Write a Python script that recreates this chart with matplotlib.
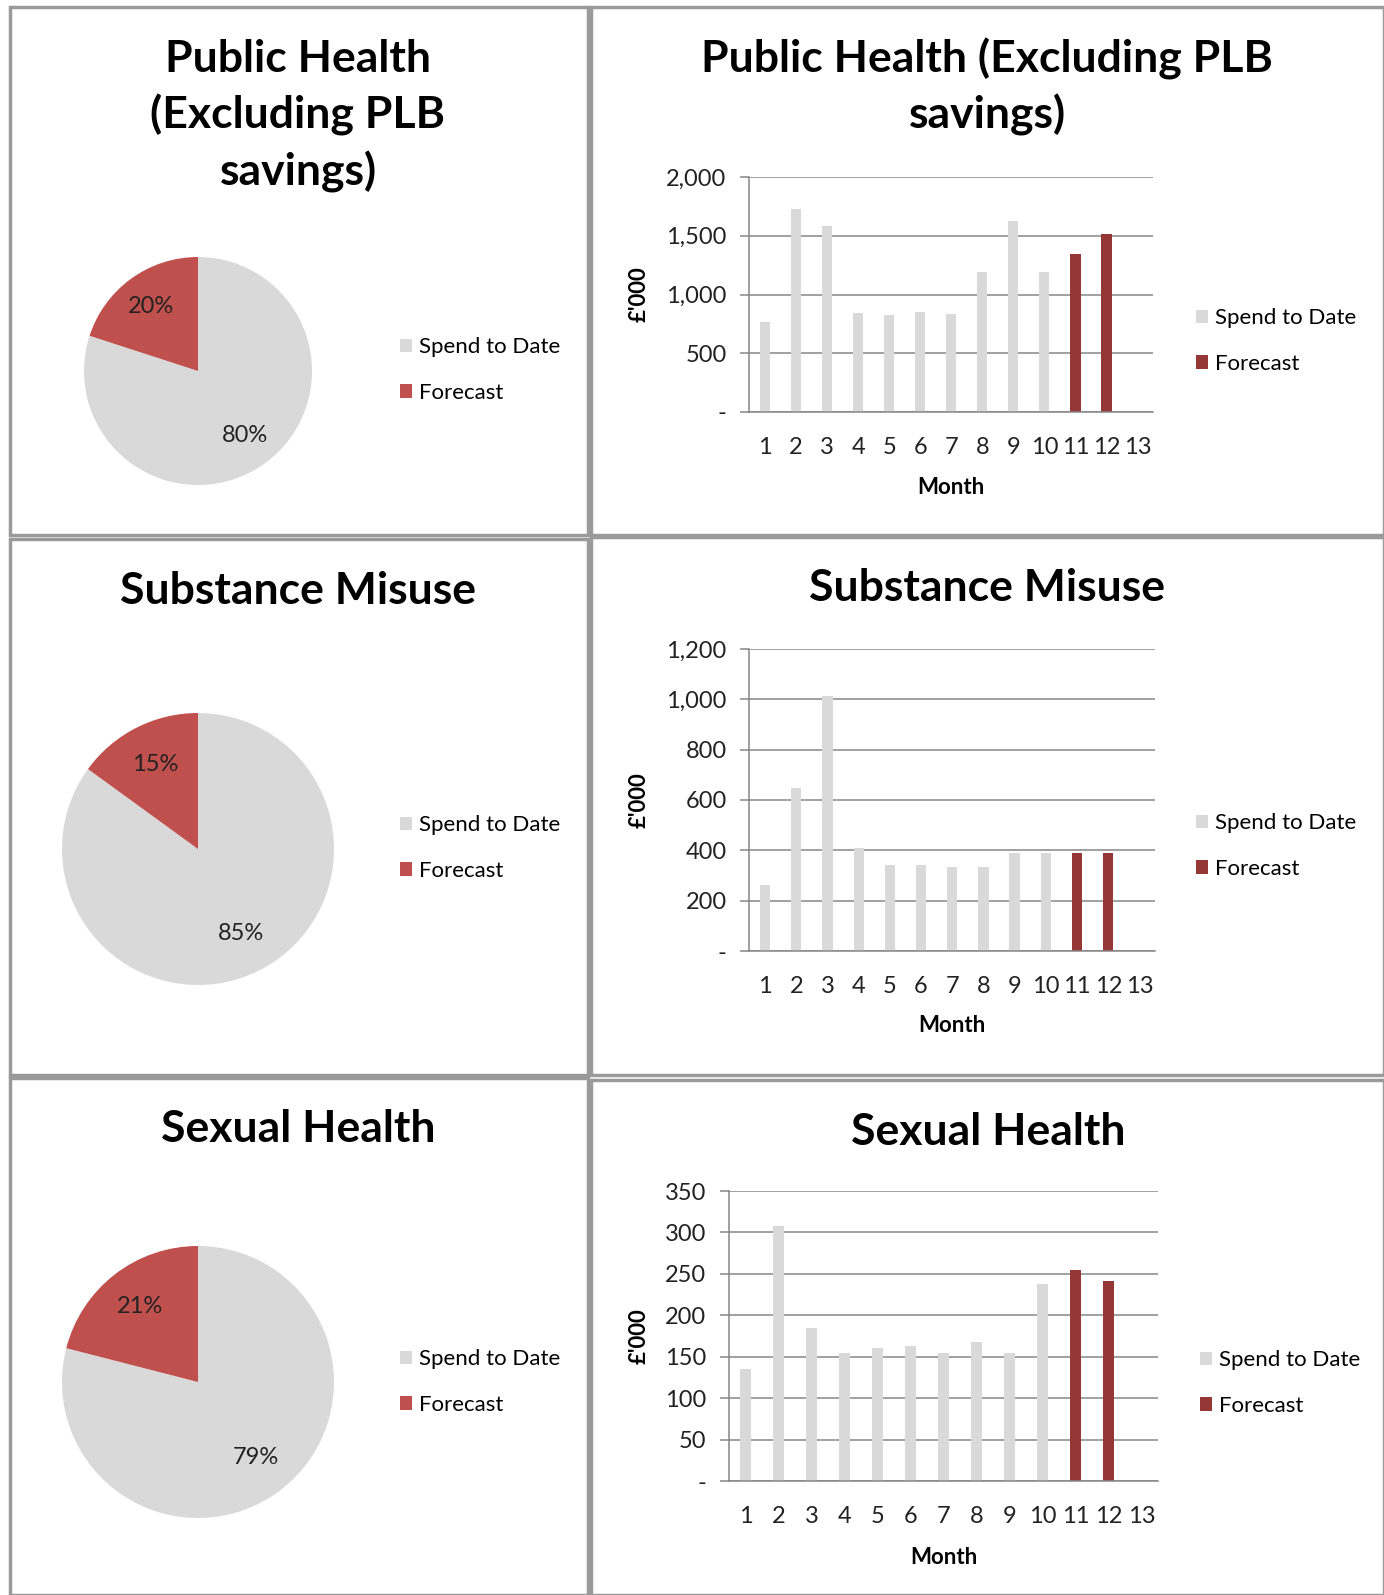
import matplotlib
matplotlib.use("Agg")
import matplotlib.pyplot as plt
from matplotlib.patches import Rectangle
from matplotlib.ticker import FuncFormatter


# Pie shares (%), spend to date vs forecast
PH_SHARE = [80, 20]
SM_SHARE = [85, 15]
SH_SHARE = [79, 21]

# Monthly spend (£'000), months 1-10 actual, 11-12 forecast
SPEND_MONTHS = [1, 2, 3, 4, 5, 6, 7, 8, 9, 10]
FORECAST_MONTHS = [11, 12]
ALL_MONTHS = list(range(1, 14))

PH_SPEND = [766, 1725, 1583, 843, 823, 854, 831, 1191, 1628, 1191]
PH_FORECAST = [1345, 1518]
SM_SPEND = [261, 647, 1013, 409, 343, 343, 332, 332, 388, 388]
SM_FORECAST = [388, 388]
SH_SPEND = [135, 308, 185, 155, 160, 163, 154, 168, 154, 238]
SH_FORECAST = [255, 241]

LABELS = ["Spend to Date", "Forecast"]

PIE_COLORS = ["#D9D9D9", "#C0504D"]
BAR_SPEND = "#D9D9D9"
BAR_FORECAST = "#953735"
GRID = "#868686"
BORDER = "#9A9A9A"

W, H = 1384, 1595
FONT = "Lato"
FS = 16


def box(x0, y0, x1, y1):
    return [x0 / W, 1 - y1 / H, (x1 - x0) / W, (y1 - y0) / H]


def fx(x):
    return x / W


def fy(y):
    return 1 - y / H


def panel_border(fig, x0, y0, x1, y1):
    fig.add_artist(Rectangle((x0 / W, 1 - y1 / H), (x1 - x0) / W, (y1 - y0) / H,
                             transform=fig.transFigure, fill=False,
                             edgecolor=BORDER, linewidth=2.5))


def add_legend(fig, handles, x, y):
    fig.legend(handles, LABELS, loc="center left",
               bbox_to_anchor=(fx(x), fy(y)),
               frameon=False, handlelength=0.55, handleheight=0.55,
               handletextpad=0.3, labelspacing=1.15, borderpad=0,
               borderaxespad=0, prop=dict(family=FONT, size=FS))


def draw_pie(fig, share, cx, cy, r, legend_x, legend_y):
    ax = fig.add_axes(box(cx - r, cy - r, cx + r, cy + r))
    wedges, _, _ = ax.pie(share, colors=PIE_COLORS, startangle=90,
                          counterclock=False, autopct="%.0f%%",
                          pctdistance=0.7,
                          textprops=dict(fontsize=17, color="#222222",
                                         family=FONT))
    ax.set_xlim(-1, 1)
    ax.set_ylim(-1, 1)
    add_legend(fig, wedges, legend_x, legend_y)


def draw_bars(fig, spend, forecast, ymax, step, rect, ylab_x, month_y,
              legend_x, legend_y):
    ax = fig.add_axes(box(*rect))
    b1 = ax.bar(SPEND_MONTHS, spend, width=0.33, color=BAR_SPEND, zorder=2)
    b2 = ax.bar(FORECAST_MONTHS, forecast, width=0.33, color=BAR_FORECAST, zorder=2)
    ax.set_xlim(0.5, 13.5)
    ax.set_ylim(0, ymax)
    ax.set_yticks(range(0, ymax + 1, step))
    ax.yaxis.set_major_formatter(FuncFormatter(lambda v, p: "-" if v == 0 else f"{v:,.0f}"))
    ax.set_xticks(ALL_MONTHS)
    ax.grid(axis="y", color=GRID, linewidth=1.1, zorder=0)
    for side in ["top", "right"]:
        ax.spines[side].set_visible(False)
    for side in ["left", "bottom"]:
        ax.spines[side].set_color(GRID)
        ax.spines[side].set_linewidth(1.1)
    ax.tick_params(axis="y", length=6.5, width=1.1, color=GRID, pad=10,
                   labelsize=17, labelcolor="#222222")
    ax.tick_params(axis="x", length=0, pad=18, labelsize=17, labelcolor="#222222")
    for t in ax.get_xticklabels() + ax.get_yticklabels():
        t.set_family(FONT)
    ycen = (rect[1] + rect[3]) / 2
    fig.text(fx(ylab_x), fy(ycen), "£'000", rotation=90, ha="center", va="center",
             fontsize=FS, fontweight="bold", family=FONT)
    fig.text(fx((rect[0] + rect[2]) / 2), fy(month_y), "Month", ha="center",
             va="center", fontsize=FS, fontweight="bold", family=FONT)
    add_legend(fig, [b1, b2], legend_x, legend_y)


def title(fig, x, y, text):
    fig.text(fx(x), fy(y), text, ha="center", va="center", fontsize=32,
             fontweight="bold", family=FONT, linespacing=1.42)


def main():
    fig = plt.figure(figsize=(W / 100, H / 100), dpi=100)

    panel_border(fig, 10, 7, 588, 535)
    panel_border(fig, 591, 7, 1384, 535)
    panel_border(fig, 10, 539, 588, 1075)
    panel_border(fig, 591, 537, 1384, 1075)
    panel_border(fig, 10, 1078, 588, 1595)
    panel_border(fig, 591, 1080, 1384, 1595)

    # row 1
    title(fig, 298, 116, "Public Health\n(Excluding PLB\nsavings)")
    draw_pie(fig, PH_SHARE, 198, 371, 114, 400, 370)
    title(fig, 987, 87, "Public Health (Excluding PLB\nsavings)")
    draw_bars(fig, PH_SPEND, PH_FORECAST, 2000, 500, (749.5, 177, 1153, 412),
              639, 487, 1196, 341)

    # row 2
    title(fig, 298, 591, "Substance Misuse")
    draw_pie(fig, SM_SHARE, 198, 849, 136, 400, 848)
    title(fig, 987, 588, "Substance Misuse")
    draw_bars(fig, SM_SPEND, SM_FORECAST, 1200, 200, (749.5, 649, 1155, 951),
              639, 1026, 1196, 846)

    # row 3
    title(fig, 298, 1129, "Sexual Health")
    draw_pie(fig, SH_SHARE, 198, 1382, 136, 400, 1382)
    title(fig, 988, 1132, "Sexual Health")
    draw_bars(fig, SH_SPEND, SH_FORECAST, 350, 50, (729, 1191, 1158, 1481),
              639, 1557, 1200, 1383)

    fig.savefig("out.png", dpi=100)
    plt.close(fig)


if __name__ == "__main__":
    main()
